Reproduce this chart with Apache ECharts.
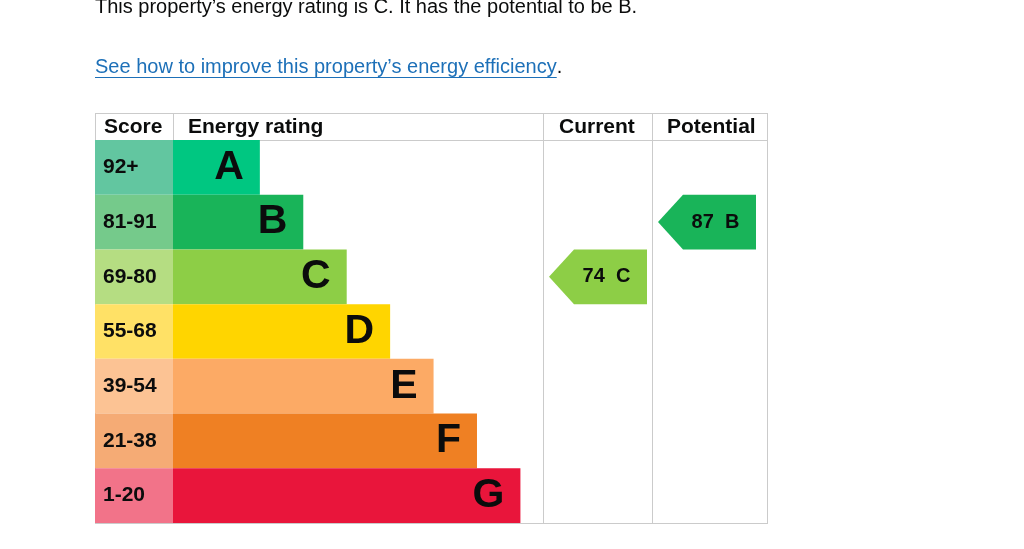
<!DOCTYPE html>
<html><head><meta charset="utf-8">
<script src="https://cdn.jsdelivr.net/npm/echarts@6/dist/echarts.min.js"></script>
<style>html,body{margin:0;padding:0;background:#fff}#c{width:1024px;height:549px}</style>
</head><body><div id="c"></div>
<script>
// ---- data ----
const bands = ['A','B','C','D','E','F','G'];
const scoreRanges = ['92+','81-91','69-80','55-68','39-54','21-38','1-20'];
const barLengths = [2,3,4,5,6,7,8];
const bandColors = ['#00c781','#19b459','#8dce46','#ffd500','#fcaa65','#ef8023','#e9153b'];
const scoreColors = ['#62c6a0','#75ca8b','#b5dd82','#ffe166','#fcc394','#f5ab75','#f27389'];
const headers = ['Score','Energy rating','Current','Potential'];
const ratingScores = [74, 87];
const ratingBands = ['C','B'];
const introText = 'This property\u2019s energy rating is C. It has the potential to be B.';
const linkText = 'See how to improve this property\u2019s energy efficiency';

// ---- layout ----
const FONT = 'Liberation Sans, Arial, sans-serif';
const TOP = 140, H = 383, TABLE_TOP = 113;
const cols = [{x:95,w:78},{x:173,w:370},{x:543,w:109},{x:652,w:115}];
const LINE = '#cbcbcb';

const chart = echarts.init(document.getElementById('c'), null, {renderer:'canvas'});

function measure(text, font){
  const cv = document.createElement('canvas').getContext('2d');
  cv.font = font; return cv.measureText(text).width;
}

const grids = cols.map(c => ({left:c.x, top:TOP, width:c.w, height:H}));
const xMax = [1, 8.52, 1, 1];
const xAxes = cols.map((c,i) => ({type:'value', gridIndex:i, min:0, max:xMax[i], show:false}));
const yAxes = cols.map((c,i) => ({type:'category', gridIndex:i, data:bands, inverse:true, show:false}));

function arrowSeries(k){
  const gi = k + 2;
  return {
    type:'custom', xAxisIndex:gi, yAxisIndex:gi, silent:true,
    data:[[0, ratingBands[k]]],
    renderItem: function(params, api){
      const cs = params.coordSys;
      const c = api.coord([0, api.value(1)]);
      const h = api.size([0,1])[1];
      const left = cs.x + 6, right = left + 98, head = 25;
      const top = c[1] - h/2, bottom = c[1] + h/2;
      const bi = bands.indexOf(ratingBands[k]);
      return {
        type:'group', children:[
          {type:'polygon', shape:{points:[[left,c[1]],[left+head,top],[right,top],[right,bottom],[left+head,bottom]]},
           style:{fill:bandColors[bi]}},
          {type:'text', style:{text: ratingScores[k] + '  ' + ratingBands[k], x:left+57.5, y:c[1],
            align:'center', verticalAlign:'middle', font:'bold 20px ' + FONT, fill:'#0b0c0c'}}
        ]
      };
    }
  };
}

const linkFont = '20px ' + FONT;
const linkW = measure(linkText, linkFont);

const graphics = [
  {type:'text', style:{text:introText, x:95, y:7, font:'20px '+FONT, fill:'#0b0c0c', verticalAlign:'middle'}},
  {type:'text', style:{text:linkText, x:95, y:67.5, font:linkFont, fill:'#1d70b8', verticalAlign:'middle'}},
  {type:'text', style:{text:'.', x:95+linkW, y:67.5, font:linkFont, fill:'#0b0c0c', verticalAlign:'middle'}},
  {type:'line', shape:{x1:95, y1:77.5, x2:95+linkW, y2:77.5}, style:{stroke:'#1d70b8', lineWidth:1}},
];
// header texts
const headerX = [104, 188, 559, 667];
headers.forEach((t,i) => graphics.push({type:'text', style:{text:t, x:headerX[i], y:127, font:'bold 21px '+FONT, fill:'#0b0c0c', verticalAlign:'middle'}}));
// table lines
const R = 767, B = TOP + H;
[[95,TABLE_TOP+0.5,R,TABLE_TOP+0.5],[95,TOP+0.5,R,TOP+0.5],[95,B+0.5,R,B+0.5],
 [95.5,TABLE_TOP,95.5,B],[173.5,TABLE_TOP,173.5,TOP],[543.5,TABLE_TOP,543.5,B],[652.5,TABLE_TOP,652.5,B],[767.5,TABLE_TOP,767.5,B+1]]
 .forEach(l => graphics.push({type:'line', z:-1, shape:{x1:l[0],y1:l[1],x2:l[2],y2:l[3]}, style:{stroke:LINE, lineWidth:1}}));

chart.setOption({
  animation:false,
  grid:grids, xAxis:xAxes, yAxis:yAxes,
  graphic:graphics,
  series:[
    {type:'bar', xAxisIndex:0, yAxisIndex:0, silent:true, barCategoryGap:'0%',
     data: scoreRanges.map((s,i) => ({value:1, itemStyle:{color:scoreColors[i]}})),
     label:{show:true, position:'insideLeft', distance:8, formatter:p => scoreRanges[p.dataIndex],
       fontFamily:FONT, fontSize:21, fontWeight:'bold', color:'#0b0c0c'}},
    {type:'bar', xAxisIndex:1, yAxisIndex:1, silent:true, barCategoryGap:'0%',
     data: barLengths.map((v,i) => ({value:v, itemStyle:{color:bandColors[i]}})),
     label:{show:true, position:'insideRight', distance:16, formatter:p => bands[p.dataIndex],
       fontFamily:FONT, fontSize:41, fontWeight:'bold', color:'#0b0c0c'}},
    arrowSeries(0), arrowSeries(1)
  ]
});
</script></body></html>
